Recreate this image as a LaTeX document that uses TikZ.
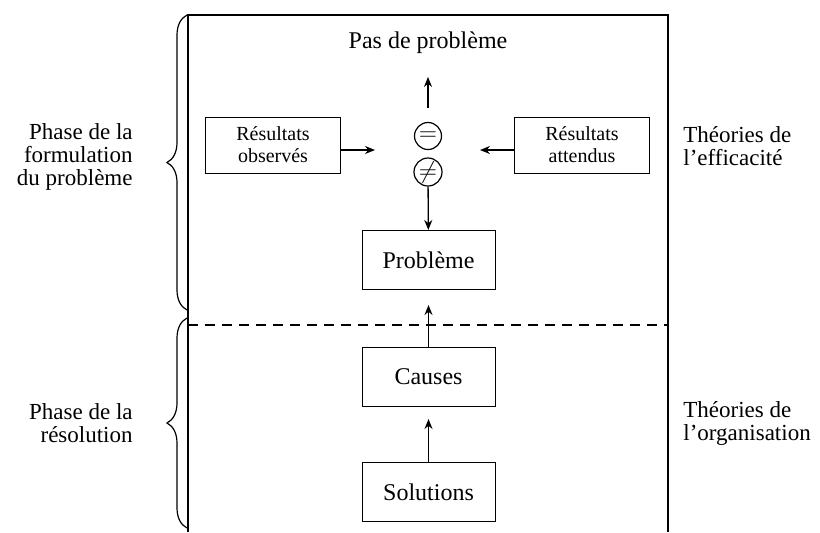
\documentclass[tikz,border=0pt]{standalone}
\usepackage{fontspec}
\setmainfont{Liberation Serif}
\usetikzlibrary{decorations.pathreplacing,arrows.meta}
\begin{document}
\begin{tikzpicture}[x=0.5pt,y=-0.5pt,
	box/.style={draw,line width=0.5pt,minimum width=66.5pt,minimum height=29.5pt,inner sep=0pt,font=\fontsize{12}{14}\selectfont},
	resbox/.style={draw,line width=0.5pt,minimum width=67.5pt,minimum height=28pt,inner sep=0pt,align=center,font=\fontsize{10}{11}\selectfont},
	sign/.style={draw,circle,line width=0.6pt,minimum size=13.5pt,inner sep=0pt,font=\fontsize{12}{12}\selectfont},
	side/.style={inner sep=0pt,font=\fontsize{11.5}{11.5}\selectfont},
	link/.style={-{Stealth[length=5pt,width=4pt]},line width=0.65pt},
	phase/.style={decorate,decoration={brace,amplitude=10pt},line width=0.6pt}]
	\useasboundingbox (0,0) rectangle (820,532);
	\draw [line width=0.8pt] (188,532) -- (188,15) -- (668,15) -- (668,532);
	\draw [dashed,dash pattern=on 5pt off 3.5pt,line width=0.9pt] (188,325) -- (668,325);
	\draw [phase] (187,310) -- (187,15);
	\draw [phase] (187,528) -- (187,318);
	\node (pas) at (428,43) {\fontsize{12}{14}\selectfont Pas de problème};
	\node [sign] (eq) at (428,136) {$=$};
	\node [sign] (neq) at (428,172) {$\neq$};
	\coordinate (cmp) at (428,150);
	\node [resbox] (obs) at (273,145) {Résultats\\observés};
	\node [resbox] (att) at (582,145) {Résultats\\attendus};
	\node [box] (prob) at (428.5,260) {Problème};
	\node [box] (caus) at (428.5,377) {Causes};
	\node [box] (sol) at (428.5,492) {Solutions};
	\node [side,align=right,anchor=east] (formu) at (133,157) {Phase de la\\formulation\\du problème};
	\node [side,align=right,anchor=east] (resol) at (133,423) {Phase de la\\résolution};
	\node [side,align=left,anchor=west] (effic) at (683,146) {Théories de\\l’efficacité};
	\node [side,align=left,anchor=west] (organ) at (683,423) {Théories de\\l’organisation};
	\draw [link,shorten <=7pt,shorten >=8pt] (eq) -- (pas);
	\draw [link] (obs.east |- cmp) -- ([xshift=-26.5pt]cmp);
	\draw [link] (att.west |- cmp) -- ([xshift=26pt]cmp);
	\draw [link] (neq) -- (prob);
	\draw [link,shorten >=7.5pt] (caus) -- (prob);
	\draw [link,shorten >=6pt] (sol) -- (caus);
\end{tikzpicture}
\end{document}
